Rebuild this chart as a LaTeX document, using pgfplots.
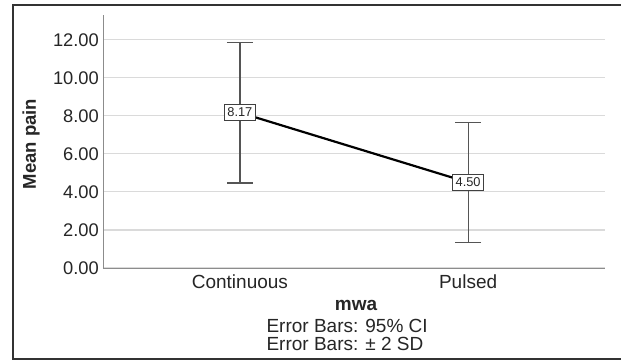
\documentclass[border=0pt]{standalone}
\usepackage{pgfplots}
\pgfplotsset{compat=1.18}
\usepackage{fontspec}
\setmainfont{Liberation Sans}
\definecolor{gridc}{HTML}{DADADA}
\definecolor{axc}{HTML}{8C8C8C}
\definecolor{errc}{HTML}{555555}
\begin{document}
\fontsize{19bp}{22bp}\selectfont
\begin{tikzpicture}[x=1bp,y=1bp]
\useasboundingbox (-103,-93) rectangle (518,268);
\fill[white] (-103,-93) rectangle (518,268);
\draw[line width=1.3bp, color=black!80] (518,263)--(-90,263)--(-90,-91)--(518,-91);
\begin{axis}[
  at={(0,0)}, anchor=south west,
  scale only axis, width=502bp, height=253bp,
  xmin=-0.6, xmax=1.6, ymin=0, ymax=13.3,
  axis x line*=bottom, axis y line*=left,
  axis line style={color=axc, line width=0.9bp, -},
  xtick={0,1}, xticklabels={Continuous,Pulsed},
  ytick={0,2,4,6,8,10,12},
  major tick length=0pt,
  ymajorgrids, grid style={color=gridc, line width=1.1bp},
  /pgf/number format/assume math mode=true,
  yticklabel={\pgfmathprintnumber[fixed,fixed zerofill,precision=2]{\tick}},
  y tick label style={font=\fontsize{18.3bp}{21bp}\selectfont, text=black!85, inner sep=0pt, anchor=east, xshift=-4bp},
  x tick label style={font=\fontsize{19bp}{22bp}\selectfont, text=black!85, inner sep=0pt, anchor=base, yshift=-20bp},
  clip=false,
]
\addplot[black, line width=2.2bp,
  error bars/.cd, y dir=both, y explicit,
  error bar style={color=errc, line width=1.2bp},
  error mark options={rotate=90, mark size=13bp, color=errc, line width=1.2bp},
  ]
  coordinates {(0,8.17) +- (0,3.70) (1,4.50) +- (0,3.14)};
\addplot[draw=none, mark=none,
  nodes near coords={\pgfmathprintnumber[fixed,fixed zerofill,precision=2]{\pgfplotspointmeta}},
  nodes near coords style={anchor=center, draw=black!75, fill=white, line width=0.8bp,
    inner xsep=3bp, inner ysep=3.5bp, text=black!85,
    font=\fontsize{12.8bp}{14bp}\selectfont},
  ]
  coordinates {(0,8.17) (1,4.50)};
\end{axis}
\node[rotate=90, text=black!85, font=\fontsize{18.5bp}{21bp}\selectfont\bfseries] at (-72,124) {Mean pain};
\node[anchor=base, text=black!85, font=\fontsize{19bp}{22bp}\selectfont\bfseries] at (253,-42) {mwa};
\node[anchor=base west, text=black!85] at (157,-64) {Error Bars: 95\% CI};
\node[anchor=base west, text=black!85] at (157,-82) {Error Bars: ± 2 SD};
\end{tikzpicture}
\end{document}
